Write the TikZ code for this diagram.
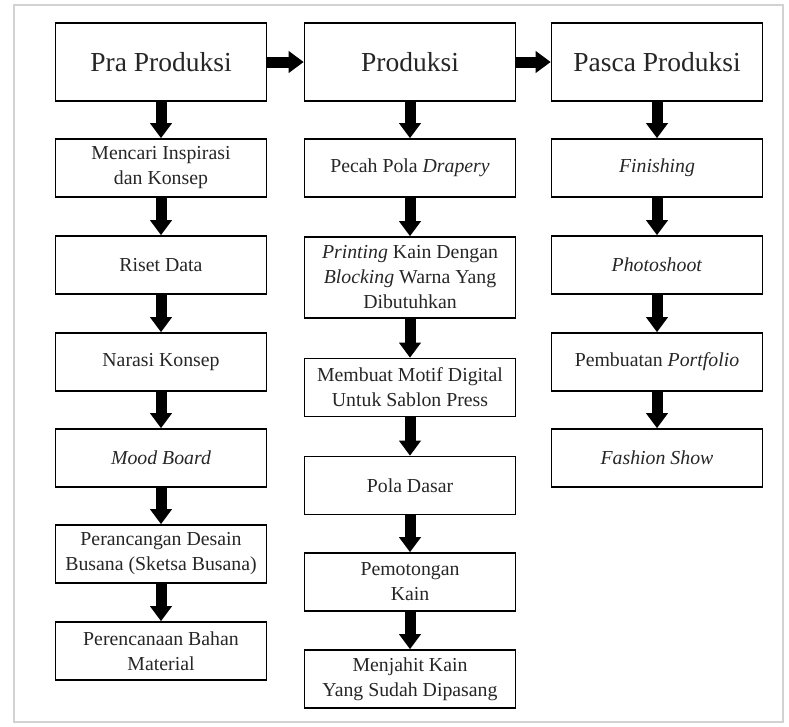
\documentclass[tikz,border=0pt]{standalone}
\usepackage{fontspec}
\setmainfont{Liberation Serif}
\usetikzlibrary{arrows.meta,positioning}

\begin{document}
\begin{tikzpicture}[x=1pt,y=-1pt]
\tikzstyle{stage}=[rectangle, draw=black, line width=1.6pt, minimum width=211pt, minimum height=78pt, font=\fontsize{27.5}{31}\selectfont, text=black!85]
\tikzstyle{proc}=[rectangle, draw=black, line width=1.6pt, minimum width=211pt, minimum height=58pt, align=center, inner sep=2pt, font=\fontsize{19.8}{25}\selectfont, text=black!85]
\tikzstyle{connect}=[-{Triangle[width=21pt,length=15pt]}, line width=11pt, black]
\useasboundingbox (0,0) rectangle (789,726);
\draw[gray!35, line width=1.5pt] (14,5) rectangle (783,722);

	\node[stage] (pra) at (161,62) {Pra Produksi};
	\node[stage] (prod) at (410,62) {Produksi};
	\node[stage] (pasca) at (657,62) {Pasca Produksi};

	% pra produksi
	\node[proc] (p_1) at (161,168) {Mencari Inspirasi\\dan Konsep};
	\node[proc] (p_2) at (161,265) {Riset Data};
	\node[proc] (p_3) at (161,362) {Narasi Konsep};
	\node[proc] (p_4) at (161,458) {\textit{Mood Board}};
	\node[proc] (p_5) at (161,554) {Perancangan Desain\\Busana (Sketsa Busana)};
	\node[proc] (p_6) at (161,651) {Perencanaan Bahan\\Material};

	% produksi
	\node[proc] (q_1) at (410,168) {Pecah Pola \textit{Drapery}};
	\node[proc, minimum height=81pt] (q_2) at (410,277.5) {\textit{Printing} Kain Dengan\\\textit{Blocking} Warna Yang\\Dibutuhkan};
	\node[proc] (q_3) at (410,387.5) {Membuat Motif Digital\\Untuk Sablon Press};
	\node[proc] (q_4) at (410,485.5) {Pola Dasar};
	\node[proc] (q_5) at (410,582) {Pemotongan\\Kain};
	\node[proc] (q_6) at (410,679) {Menjahit Kain\\Yang Sudah Dipasang};

	% pasca produksi
	\node[proc] (r_1) at (657,168) {\textit{Finishing}};
	\node[proc] (r_2) at (657,265) {\textit{Photoshoot}};
	\node[proc] (r_3) at (657,362) {Pembuatan \textit{Portfolio}};
	\node[proc] (r_4) at (657,458) {\textit{Fashion Show}};

	\path
		(pra) edge [connect] (prod)
		(prod) edge [connect] (pasca)
		(pra) edge [connect] (p_1)
		(p_1) edge [connect] (p_2)
		(p_2) edge [connect] (p_3)
		(p_3) edge [connect] (p_4)
		(p_4) edge [connect] (p_5)
		(p_5) edge [connect] (p_6)
		(prod) edge [connect] (q_1)
		(q_1) edge [connect] (q_2)
		(q_2) edge [connect] (q_3)
		(q_3) edge [connect] (q_4)
		(q_4) edge [connect] (q_5)
		(q_5) edge [connect] (q_6)
		(pasca) edge [connect] (r_1)
		(r_1) edge [connect] (r_2)
		(r_2) edge [connect] (r_3)
		(r_3) edge [connect] (r_4);

\end{tikzpicture}
\end{document}
